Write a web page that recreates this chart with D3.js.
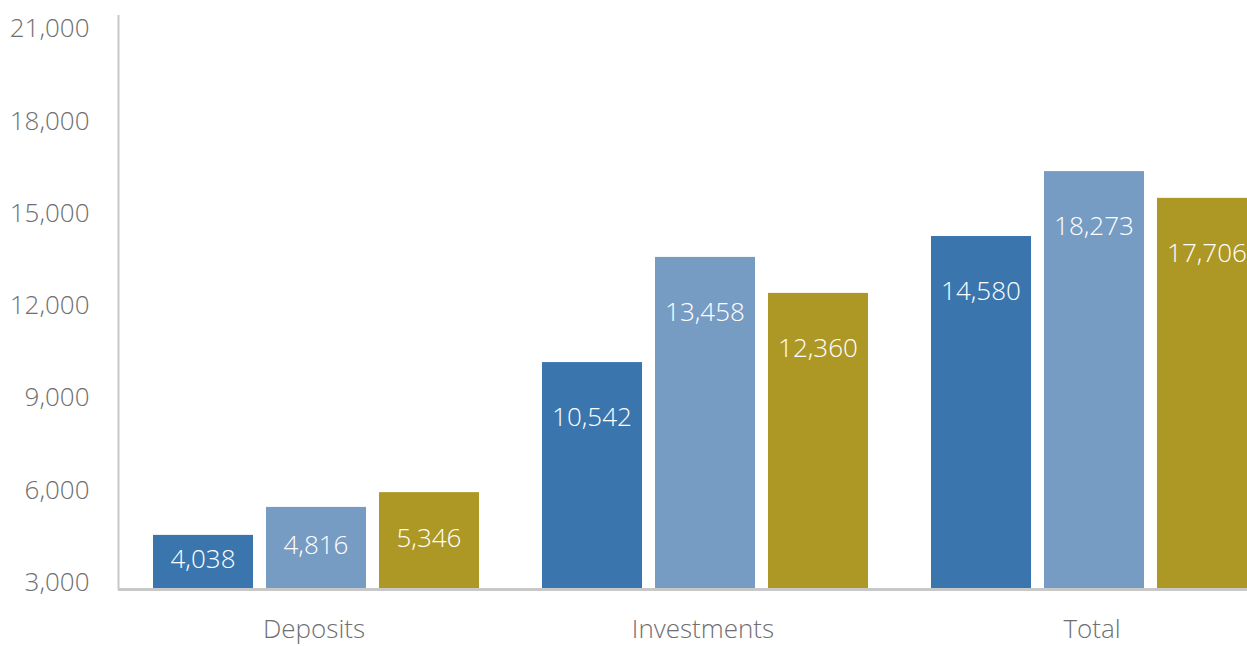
<!DOCTYPE html>
<html>
<head>
<meta charset="utf-8">
<script src="https://cdn.jsdelivr.net/npm/d3@7"></script>
<style>
	body { margin: 0; background: #fff; }
	svg { display: block; font-family: "Open Sans", Roboto, sans-serif; font-weight: 300; }
</style>
</head>
<body>
<div id="draw"></div>
<script>
// categories and series
var categories = ["Deposits", "Investments", "Total"];
var series = ["s1", "s2", "s3"];
var colors = ["#3a76ad", "#769cc3", "#ad9826"];

// bar heights
var values1 = [4760, 10380, 14480];
var values2 = [5670, 13800, 16590];
var values3 = [6150, 12630, 15720];

// printed data labels
var labels1 = [4038, 10542, 14580];
var labels2 = [4816, 13458, 18273];
var labels3 = [5346, 12360, 17706];

var yTicks = [3000, 6000, 9000, 12000, 15000, 18000, 21000];

function drawBars() {
	var width = 1247, height = 646;
	var allValues = [values1, values2, values3];
	var allLabels = [labels1, labels2, labels3];

	var svg = d3.select("#draw").append("svg")
		.attr("width", width)
		.attr("height", height);

	var y = d3.scaleLinear()
		.domain([3000, 21000])
		.range([589, 35.5]);

	var x0 = d3.scaleBand()
		.domain(categories)
		.range([121.5, 1288.5])
		.paddingInner(0.162)
		.paddingOuter(0.081);

	var x1 = d3.scaleBand()
		.domain(series)
		.range([0, x0.bandwidth()])
		.paddingInner(0.115)
		.paddingOuter(0);

	var fmt = d3.format(",");

	// y axis labels
	var yAxis = svg.append("g")
		.attr("transform", "translate(" + 118.5 + ",0)")
		.call(d3.axisLeft(y).tickValues(yTicks).tickSize(0).tickPadding(29).tickFormat(fmt));
	yAxis.select(".domain").remove();
	yAxis.selectAll("text")
		.attr("dy", "0.36em")
		.attr("y", -8)
		.attr("fill", "#6f6f71")
		.style("font-family", "'Open Sans', Roboto, sans-serif")
		.style("font-weight", 300)
		.style("font-size", "26px");

	var groups = svg.selectAll(".group")
		.data(categories)
		.enter()
		.append("g")
		.attr("class", "group")
		.attr("transform", function(d){ return "translate(" + x0(d) + ",0)"; });

	groups.selectAll("rect")
		.data(function(d, i){
			return series.map(function(s, j){
				return { s: s, j: j, value: allValues[j][i], label: allLabels[j][i] };
			});
		})
		.enter()
		.append("rect")
		.attr("x", function(d){ return x1(d.s); })
		.attr("y", function(d){ return y(d.value); })
		.attr("width", x1.bandwidth())
		.attr("height", function(d){ return y(3000) - y(d.value); })
		.attr("fill", function(d){ return colors[d.j]; });

	groups.selectAll(".lbl")
		.data(function(d, i){
			return series.map(function(s, j){
				return { s: s, j: j, value: allValues[j][i], label: allLabels[j][i] };
			});
		})
		.enter()
		.append("text")
		.attr("class", "lbl")
		.attr("x", function(d){ return x1(d.s) + x1.bandwidth() / 2; })
		.attr("y", function(d){
			var top = y(d.value);
			return Math.min((top + y(3000)) / 2 - 3, top + 55);
		})
		.attr("dy", "0.36em")
		.attr("text-anchor", "middle")
		.attr("fill", "#fff")
		.style("font-size", "26px")
		.text(function(d){ return fmt(d.label); });

	// axis lines
	svg.append("line")
		.attr("x1", 118.5).attr("x2", 118.5)
		.attr("y1", 15).attr("y2", 590)
		.attr("stroke", "#c8c8c8")
		.attr("stroke-width", 2);
	svg.append("line")
		.attr("x1", 118).attr("x2", width)
		.attr("y1", 589.5).attr("y2", 589.5)
		.attr("stroke", "#c8c8c8")
		.attr("stroke-width", 3);

	// category labels
	svg.selectAll(".cat")
		.data(categories)
		.enter()
		.append("text")
		.attr("class", "cat")
		.attr("x", function(d){ return x0(d) + x0.bandwidth() / 2 - 2; })
		.attr("y", 629)
		.attr("dy", "0.36em")
		.attr("text-anchor", "middle")
		.attr("fill", "#6f6f71")
		.style("font-size", "26px")
		.text(function(d){ return d; });
}

drawBars();
</script>
</body>
</html>
